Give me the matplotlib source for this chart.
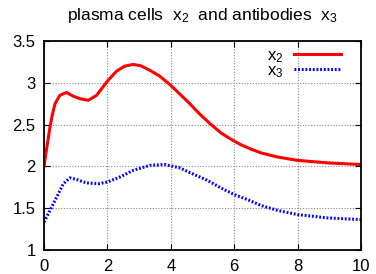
import matplotlib
matplotlib.use("Agg")
import matplotlib.pyplot as plt

# ─────────────────────────────────────────────
# Data
# ─────────────────────────────────────────────
t_x2 = [0.0, 0.1, 0.19, 0.27, 0.35, 0.5, 0.71, 0.92, 1.13, 1.4, 1.66, 2.0, 2.29, 2.55, 2.81,
        3.05, 3.34, 3.65, 4.0, 4.3, 4.6, 4.9, 5.24, 5.58, 5.87, 6.2, 6.5, 6.84,
        7.37, 8.0, 8.95, 10.0]
x2   = [2.0, 2.25, 2.47, 2.63, 2.75, 2.85, 2.884, 2.84, 2.81, 2.79, 2.85, 3.02, 3.14, 3.2, 3.22,
        3.205, 3.15, 3.08, 2.97, 2.86, 2.75, 2.63, 2.51, 2.40, 2.33, 2.26, 2.21, 2.16,
        2.11, 2.07, 2.04, 2.02]

t_x3 = [0.0, 0.19, 0.4, 0.61, 0.82, 1.03, 1.34, 1.71, 2.0, 2.39, 2.81, 3.34, 3.81,
        4.28, 4.74, 5.16, 5.58, 6.0, 6.42, 6.84, 7.37, 8.0, 8.95, 10.0]
x3   = [1.33, 1.47, 1.63, 1.79, 1.86, 1.84, 1.80, 1.79, 1.81, 1.87, 1.95, 2.01, 2.02,
        1.98, 1.90, 1.83, 1.74, 1.66, 1.60, 1.53, 1.47, 1.42, 1.38, 1.36]

xticks = [0, 2, 4, 6, 8, 10]
yticks = [1, 1.5, 2, 2.5, 3, 3.5]
ytick_labels = ["1", "1.5", "2", "2.5", "3", "3.5"]

# ─────────────────────────────────────────────
# Style
# ─────────────────────────────────────────────
plt.rcParams["font.family"] = ["Liberation Sans", "DejaVu Sans"]
plt.rcParams["mathtext.default"] = "regular"

fig = plt.figure(figsize=(3.76, 2.74), dpi=100)
ax = fig.add_axes([0.117, 0.089, 0.843, 0.761])

ax.plot(t_x2, x2, color="#ff0000", lw=2.2, label=r"$x_2$")
ax.plot(t_x3, x3, color="#0000ff", lw=2.2, ls=(0, (0.6, 0.6)), label=r"$x_3$")

ax.set_xlim(0, 10)
ax.set_ylim(1, 3.5)
ax.set_xticks(xticks)
ax.set_yticks(yticks)
ax.set_yticklabels(ytick_labels)
ax.tick_params(direction="in", top=True, right=True, labelsize=12, length=4)
ax.tick_params(axis="x", pad=7)
ax.tick_params(axis="y", pad=6)
ax.grid(True, color="#888888", ls=(0, (1, 1.5)), lw=0.8)
for s in ax.spines.values():
    s.set_linewidth(1.3)

ax.legend(loc="upper right", bbox_to_anchor=(0.937, 0.967), frameon=False,
          markerfirst=False, fontsize=12, handlelength=2.8, handletextpad=0.65,
          labelspacing=-0.1, borderaxespad=0, borderpad=0)

fig.text(0.539, 0.945, r"plasma cells  $x_2$  and antibodies  $x_3$",
         ha="center", va="center", fontsize=12.5)

fig.savefig("out.png", dpi=100)
